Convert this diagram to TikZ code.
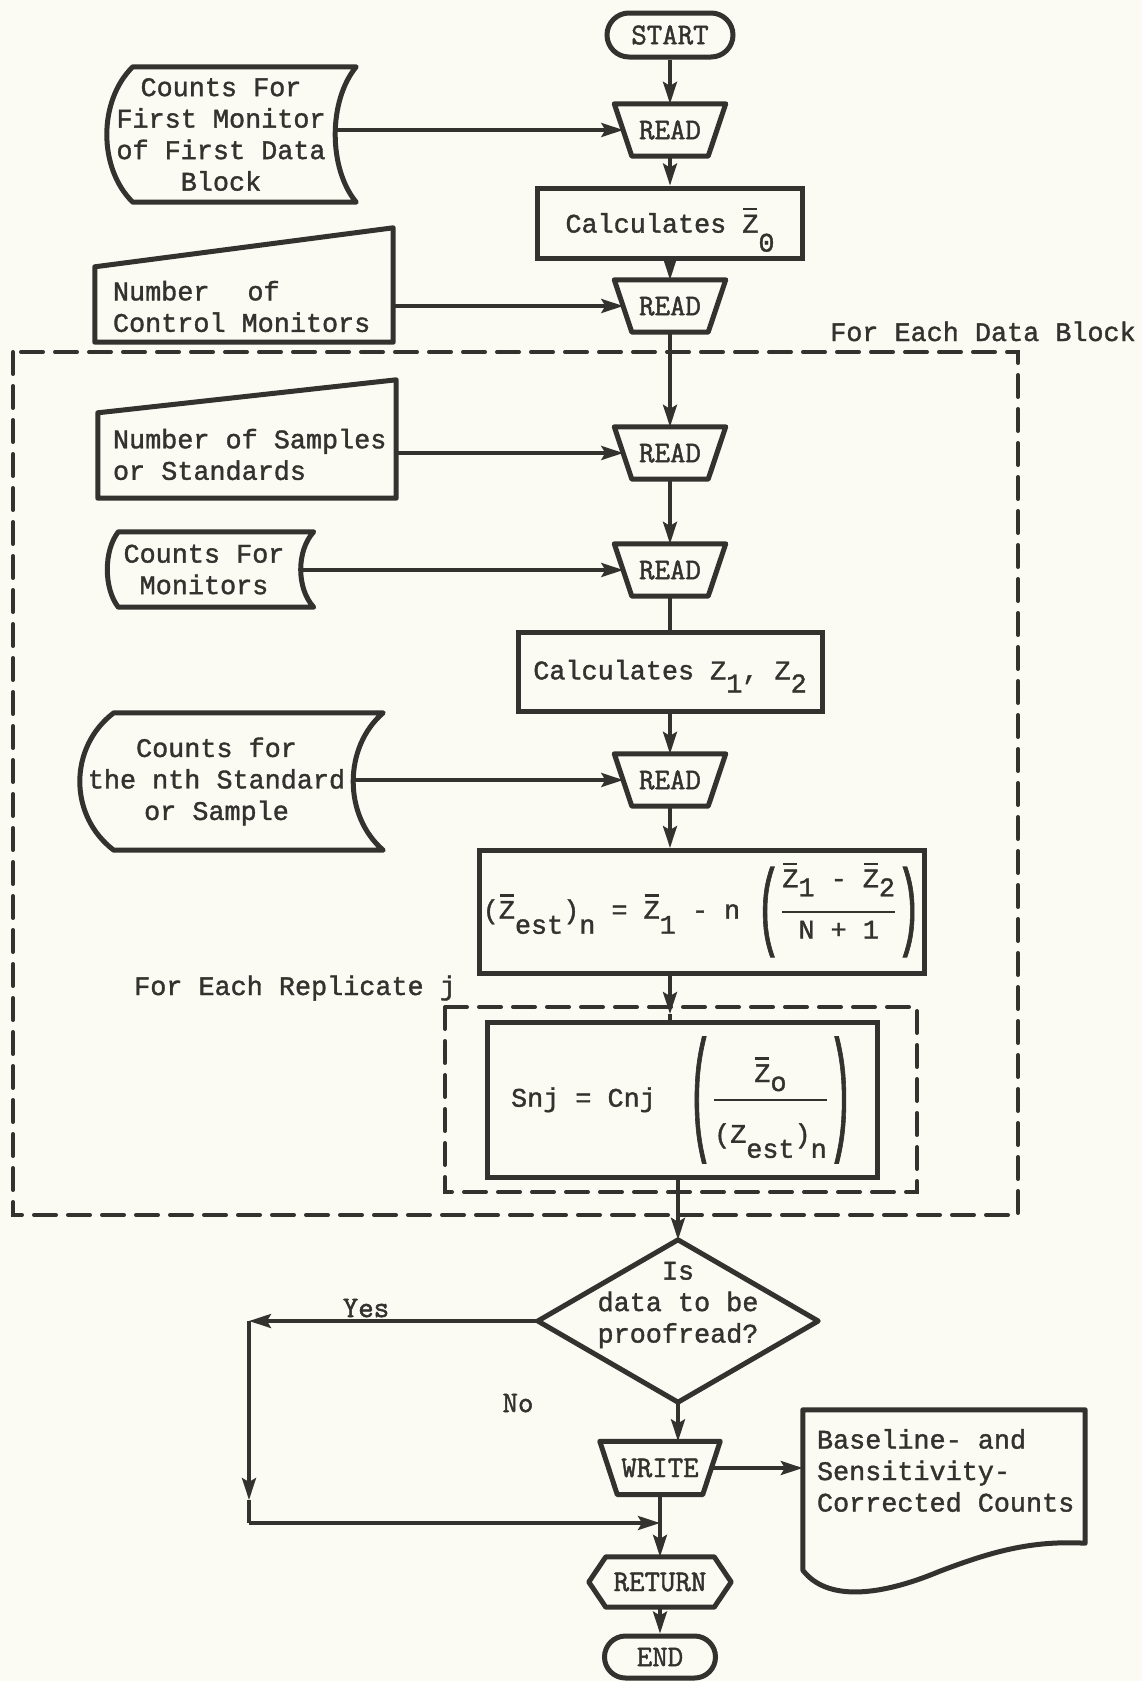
\RequirePackage{fix-cm}
\documentclass[tikz,border=0pt]{standalone}
\usepackage{amsmath}
\usepackage{graphicx}
\usepackage{fontspec}
\usetikzlibrary{calc,arrows.meta}
\newfontfamily\twfam[FakeBold=1.4]{Liberation Mono}
\newfontfamily\lmfam[FakeBold=1.6]{Latin Modern Mono}
\definecolor{ink}{RGB}{52,50,46}
\definecolor{paper}{RGB}{251,250,243}
\newcommand\twf{\twfam\fontsize{26.8}{31.5}\selectfont}
\newcommand\lmf{\lmfam\fontsize{30}{32}\selectfont}
\newcommand\zbar{\leavevmode\rlap{\hspace{0.04em}\raisebox{\dimexpr\fontcharht\font`Z+4.5pt\relax}[0pt][0pt]{\rule{0.52em}{2.6pt}}}Z}
\newcommand\lowr[2][15pt]{\raisebox{-#1}[0pt][0pt]{#2}}
\newcommand\lowd[2][10pt]{\raisebox{-#1}{#2}}
\newcommand\tallparen[2]{\vcenter{\hbox{\resizebox*{25pt}{#1}{#2}}}}
\tikzset{
  box/.style={rectangle, draw=ink, line width=5pt, inner sep=0pt, font=\twf, text=ink, align=center},
  plain/.style={rectangle, inner sep=0pt, font=\twf, text=ink, align=center},
  frame/.style={rectangle, inner sep=0pt},
  tag/.style={rectangle, inner sep=0pt, font=\lmf, text=ink},
  conn/.style={draw=ink, line width=3.5pt},
  arr/.style={conn, -{Stealth[length=22pt,width=14pt,inset=4pt]}},
  dashbox/.style={draw=ink, line width=4pt, dash pattern=on 22pt off 12pt, line cap=round},
  outline/.style={draw=ink, line width=5pt, line join=round},
}
\newcommand\trapez[2]{%
  \draw[outline] (#1.north west) -- (#1.north east) -- ($(#1.south east)+(-#2,0)$) -- ($(#1.south west)+(#2,0)$) -- cycle;}
\newcommand\tape[3]{%
  \draw[outline] ($(#1.north west)+(#2,0)$) -- ($(#1.north east)+(#3,0)$)
    .. controls ($(#1.north east)!0.25!(#1.south east)+(-#3/3,0)$) and ($(#1.north east)!0.75!(#1.south east)+(-#3/3,0)$) .. ($(#1.south east)+(#3,0)$)
    -- ($(#1.south west)+(#2,0)$)
    .. controls ($(#1.north west)!0.75!(#1.south west)+(-#2/3,0)$) and ($(#1.north west)!0.25!(#1.south west)+(-#2/3,0)$) .. ($(#1.north west)+(#2,0)$) -- cycle;}
\begin{document}
\begin{tikzpicture}[x=1pt,y=-1pt]
\useasboundingbox (0,0) rectangle (1142,1681);
\fill[paper] (0,0) rectangle (1142,1681);

% dashed loop frames
\draw[dashbox] (13,352) rectangle (1018,1215);
\draw[dashbox] (445,1007) rectangle (917,1192);
\node[plain, anchor=base west] (feb) at (830,341) {For Each Data Block};
\node[plain, anchor=base west] (fer) at (134,995) {For Each Replicate j};

% main column
\node[tag, draw=ink, line width=5pt, rounded corners=22pt, minimum width=126pt, minimum height=44pt] (st) at (670,35) {START};
\node[tag, minimum width=111pt, minimum height=52pt] (r1) at (670,130) {READ};
\trapez{r1}{17.5}
\node[box, minimum width=265pt, minimum height=70pt] (c0) at (670,223) {Calculates \zbar\lowr[19pt]{0}};
\node[tag, minimum width=111pt, minimum height=52pt] (r2) at (670,306) {READ};
\trapez{r2}{17.5}
\node[tag, minimum width=111pt, minimum height=52pt] (r3) at (670,453) {READ};
\trapez{r3}{17.5}
\node[tag, minimum width=111pt, minimum height=52pt] (r4) at (670,570) {READ};
\trapez{r4}{17.5}
\node[box, minimum width=304pt, minimum height=79pt] (c12) at (670,672) {Calculates Z\lowr[13pt]{1}, Z\lowr[13pt]{2}};
\node[tag, minimum width=111pt, minimum height=52pt] (r5) at (670,780) {READ};
\trapez{r5}{17.5}
\node[box, minimum width=445pt, minimum height=123pt] (f) at (702,912)
  {\mbox{(\zbar\lowr{est})\lowr{n} = \zbar\lowr{1} - n }$\tallparen{90pt}{(}\genfrac{}{}{2.5pt}{0}{\mbox{\zbar\lowd[9pt]{1} - \zbar\lowd[9pt]{2}}\rule[-16pt]{0pt}{1pt}}{\mbox{N + 1}}\tallparen{90pt}{)}$};
\node[box, minimum width=390pt, minimum height=155pt] (s) at (682,1100)
  {\mbox{Snj = Cnj\ \ }$\tallparen{126pt}{(}\genfrac{}{}{2.5pt}{0}{\mbox{\zbar\lowd[9pt]{o}}}{\rule{0pt}{34pt}\mbox{(Z\lowd[15pt]{est})\lowd[15pt]{n}}}\tallparen{126pt}{)}$};

% decision
\node[frame, minimum width=280pt, minimum height=162pt] (d) at (678,1321) {};
\draw[outline] (d.north) -- (d.east) -- (d.south) -- (d.west) -- cycle;
\node[plain] (dq) at (678,1305) {Is\\data to be\\proofread?};
\node[tag] (yes) at (366,1308) {Yes};
\node[tag] (no) at (518,1403) {No};

\node[tag, minimum width=120pt, minimum height=53pt] (w) at (660,1468) {WRITE};
\trapez{w}{17.5}
\node[tag, minimum width=142pt, minimum height=50pt] (ret) at (660,1582) {RETURN};
\draw[outline] (ret.west) -- ($(ret.north west)+(17,0)$) -- ($(ret.north east)+(-17,0)$) -- (ret.east) -- ($(ret.south east)+(-17,0)$) -- ($(ret.south west)+(17,0)$) -- cycle;
\node[tag, draw=ink, line width=5pt, rounded corners=21pt, minimum width=111pt, minimum height=42pt] (fin) at (660,1657) {END};

% document output
\node[frame, minimum width=282pt, minimum height=133pt] (doc) at (944,1476.5) {};
\draw[outline] ($(doc.south west)+(0,27)$) -- (doc.north west) -- (doc.north east) -- (doc.south east)
  .. controls ($(doc.south east)+(-55,-3)$) and ($(doc.south east)+(-95,9)$) .. ($(doc.south west)+(137,28)$)
  .. controls ($(doc.south west)+(87,49)$) and ($(doc.south west)+(27,62)$) .. ($(doc.south west)+(0,27)$) -- cycle;
\node[plain, align=left, anchor=west] (doct) at ($(doc.west)+(14,-6)$) {Baseline- and\\Sensitivity-\\Corrected Counts};

% input shapes
\node[plain, minimum width=228pt, minimum height=135pt] (t1) at (221,134.5) {Counts For\\First Monitor\\of First Data\\Block};
\tape{t1}{26}{21}
\node[frame, minimum width=298pt, minimum height=75pt] (m1) at (244,304.5) {};
\draw[outline] (m1.south west) -- (m1.north west) -- ($(m1.north east)+(0,-39)$) -- (m1.south east) -- cycle;
\node[plain, align=left, anchor=west] (m1t) at ($(m1.west)+(18,2)$) {Number\hspace{38pt}of\\Control Monitors};
\node[frame, minimum width=298pt, minimum height=85pt] (m2) at (247,455.5) {};
\draw[outline] (m2.south west) -- (m2.north west) -- ($(m2.north east)+(0,-33)$) -- (m2.south east) -- cycle;
\node[plain, align=left, anchor=west] (m2t) at ($(m2.west)+(15,-1)$) {Number of Samples\\or Standards};
\node[plain, minimum width=193pt, minimum height=75pt] (t2) at (204,569.5) {Counts For\\Monitors};
\tape{t2}{11}{13}
\node[plain, minimum width=273pt, minimum height=137pt] (t3) at (216.5,781.5) {Counts for\\the nth Standard\\or Sample};
\tape{t3}{34}{30}

% connectors
\draw[arr] (st.south) -- (r1.north);
\draw[arr] (r1.south) -- (c0.north);
\draw[arr] (c0.south) -- (r2.north);
\draw[arr] (r2.south) -- (r3.north);
\draw[arr] (r3.south) -- (r4.north);
\draw[conn] (r4.south) -- (c12.north);
\draw[arr] (c12.south) -- (r5.north);
\draw[arr] (r5.south) -- (r5.south |- f.north);
\coordinate (ij) at (670,1014);
\draw[arr] (f.south -| ij) -- (ij);
\draw[conn] (ij) -- (ij |- s.north);
\draw[arr] (s.south -| d.north) -- (d.north);
\draw[arr] (d.south) -- (d.south |- w.north);

\draw[arr] (t1.east |- r1.west) -- ($(r1.west)+(9,0)$);
\draw[arr] (m1.east |- r2.west) -- ($(r2.west)+(9,0)$);
\draw[arr] (m2.east |- r3.west) -- ($(r3.west)+(9,0)$);
\draw[arr] (t2.east |- r4.west) -- ($(r4.west)+(9,0)$);
\draw[arr] (t3.east |- r5.west) -- ($(r5.west)+(9,0)$);

\coordinate (y1) at (249,1321);
\coordinate (ym) at (249,1500);
\coordinate (y2) at (249,1523);
\coordinate (jn) at (660,1523);
\draw[arr] (d.west) -- (y1);
\draw[arr] (y1) -- (ym);
\draw[conn] (ym) -- (y2);
\draw[arr] (y2) -- (jn);
\draw[arr] (w.south) -- (ret.north);
\draw[arr] (ret.south) -- (fin.north);
\draw[arr] ($(w.east)+(-9,0)$) -- (w.east -| doc.west);
\end{tikzpicture}
\end{document}
